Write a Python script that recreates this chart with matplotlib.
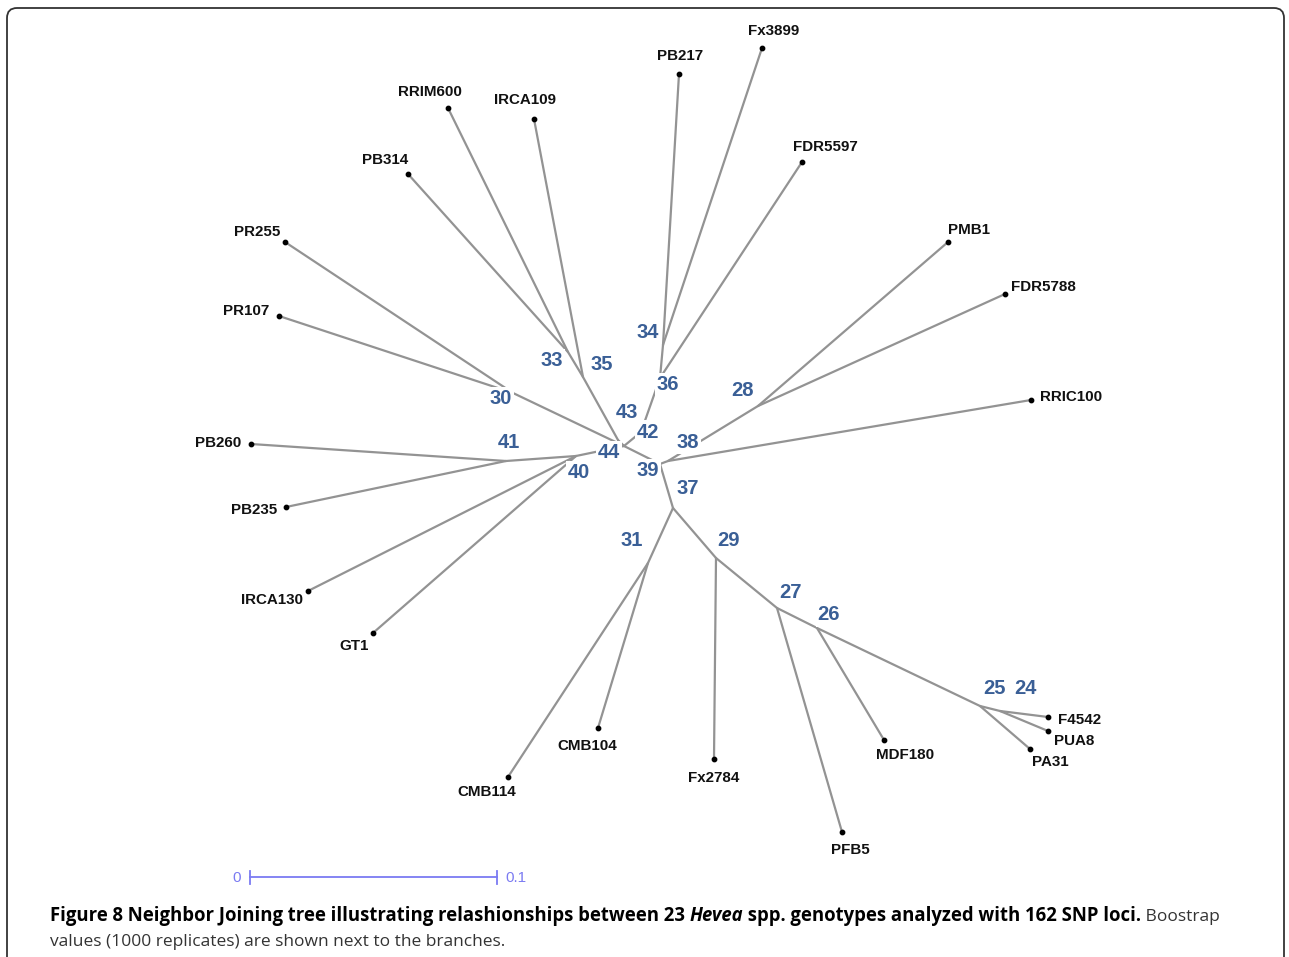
import matplotlib.pyplot as plt
from matplotlib.patches import FancyBboxPatch

# Tips of the NJ tree (layout coordinates, y grows downward)
tip_names = ["Fx3899", "PB217", "RRIM600", "IRCA109", "PB314", "FDR5597", "PMB1",
             "FDR5788", "RRIC100", "PR255", "PR107", "PB260", "PB235", "IRCA130",
             "GT1", "CMB114", "CMB104", "Fx2784", "PFB5", "MDF180", "PA31", "PUA8", "F4542"]
tip_x = [762, 679, 448, 534, 408, 802, 948, 1005, 1031, 285, 279, 251, 286, 308,
         373, 508, 598, 714, 842, 884, 1030, 1048, 1048]
tip_y = [48, 74, 108, 119, 174, 162, 242, 294, 400, 242, 316, 444, 507, 591,
         633, 777, 728, 759, 832, 740, 749, 731, 717]
# where each name sits relative to its tip
label_dx = [12, 1, -18, -9, -23, 23, 21, 38, 40, -28, -33, -33, -32, -36,
            -19, -21, -11, 0, 8, 21, 20, 26, 32]
label_dy = [-17, -18, -16, -19, -14, -15, -12, -7, -3, -10, -5, -1, 3, 9,
            13, 15, 18, 19, 18, 15, 13, 10, 3]

# Internal nodes
node_names = ["n24", "n25", "n26", "n27", "n28", "n29", "n30", "n31", "n33", "n34",
              "n35", "n36", "n37", "n38", "n39", "n40", "n41", "n42", "n43", "n44"]
node_x = [1000, 980, 817, 777, 758, 716, 513, 648, 568, 663,
          583, 660, 673, 668, 660, 576, 506, 641, 618, 624]
node_y = [711, 706, 628, 608, 406, 558, 393, 563, 352, 345,
          377, 378, 508, 461, 464, 456, 461, 432, 440, 446]

edges = [("n24", "F4542"), ("n24", "PUA8"), ("n25", "n24"), ("n25", "PA31"),
         ("n26", "n25"), ("n26", "MDF180"), ("n27", "n26"), ("n27", "PFB5"),
         ("n29", "n27"), ("n29", "Fx2784"), ("n31", "CMB114"), ("n31", "CMB104"),
         ("n37", "n29"), ("n37", "n31"), ("n39", "n37"), ("n39", "n38"),
         ("n38", "n28"), ("n38", "RRIC100"), ("n28", "PMB1"), ("n28", "FDR5788"),
         ("n33", "PB314"), ("n33", "RRIM600"), ("n35", "n33"), ("n35", "IRCA109"),
         ("n43", "n35"), ("n44", "n43"), ("n30", "PR255"), ("n30", "PR107"),
         ("n44", "n30"), ("n34", "PB217"), ("n34", "Fx3899"), ("n36", "n34"),
         ("n36", "FDR5597"), ("n42", "n36"), ("n44", "n42"), ("n41", "PB260"),
         ("n41", "PB235"), ("n40", "n41"), ("n40", "IRCA130"), ("n40", "GT1"),
         ("n44", "n40"), ("n44", "n39")]

# Bootstrap values and where they are printed
boot_values = [24, 25, 26, 27, 28, 29, 30, 31, 33, 34,
               35, 36, 37, 38, 39, 40, 41, 42, 43, 44]
boot_x = [1025, 995, 829, 791, 743, 728, 501, 632, 552, 648,
          602, 668, 688, 688, 648, 579, 509, 648, 627, 609]
boot_y = [688, 688, 615, 593, 390, 541, 399, 541, 361, 332,
          364, 385, 489, 442, 471, 473, 442, 432, 413, 453]

scale_value = 0.1
px_per_unit = 2470

pos = {}
for n, x, y in zip(tip_names, tip_x, tip_y):
    pos[n] = (x, y)
for n, x, y in zip(node_names, node_x, node_y):
    pos[n] = (x, y)

fig = plt.figure(figsize=(12.89, 9.57), dpi=100)
ax = fig.add_axes([0, 0, 1, 1])
ax.set_xlim(0, 1289)
ax.set_ylim(957, 0)
ax.axis("off")

# rounded frame
frame = FancyBboxPatch((7, 8), 1277, 1000, boxstyle="round,pad=0,rounding_size=10",
                       facecolor="white", edgecolor="#333333", linewidth=1.3, zorder=0)
ax.add_patch(frame)

# branches
for a, b in edges:
    (x0, y0), (x1, y1) = pos[a], pos[b]
    ax.plot([x0, x1], [y0, y1], color="#939393", lw=1.6, solid_capstyle="round", zorder=1)

# tips
ax.scatter(tip_x, tip_y, s=10, color="black", zorder=3)
for n, x, y, dx, dy in zip(tip_names, tip_x, tip_y, label_dx, label_dy):
    ax.text(x + dx, y + dy, n, ha="center", va="center", fontsize=10.9, fontweight="bold",
            family="Liberation Sans", color="#111111", zorder=4)

# bootstrap values
for v, x, y in zip(boot_values, boot_x, boot_y):
    ax.text(x, y, str(v), ha="center", va="center", fontsize=14.5, fontweight="bold",
            family="Liberation Sans", color="#3a5f96", zorder=5,
            bbox=dict(facecolor="white", edgecolor="none", pad=1.5))

# scale bar
bar_color = "#7b7bf2"
x0 = 250
x1 = x0 + scale_value * px_per_unit
ax.plot([x0, x1], [877, 877], color=bar_color, lw=1.3)
ax.plot([x0, x0], [871, 884], color=bar_color, lw=1.3)
ax.plot([x1, x1], [871, 884], color=bar_color, lw=1.3)
ax.text(x0 - 13, 878, "0", ha="center", va="center", fontsize=11, color=bar_color,
        family="Liberation Sans")
ax.text(x1 + 19, 878, str(scale_value), ha="center", va="center", fontsize=11,
        color=bar_color, family="Liberation Sans")

# caption, built run by run
fig.canvas.draw()
renderer = fig.canvas.get_renderer()
runs = [("Figure 8 Neighbor Joining tree illustrating relashionships between 23 ", "bold", "normal", "black", 13.33),
        ("Hevea", "bold", "italic", "black", 13.33),
        (" spp. genotypes analyzed with 162 SNP loci.", "bold", "normal", "black", 13.33),
        (" Boostrap", "normal", "normal", "#333333", 12.5)]
cx = 50
for s, w, st, c, fs in runs:
    t = ax.text(cx, 921, s, ha="left", va="baseline", fontsize=fs, fontweight=w,
                fontstyle=st, family="Open Sans", color=c)
    bb = t.get_window_extent(renderer)
    cx += bb.width
ax.text(50, 946, "values (1000 replicates) are shown next to the branches.", ha="left",
        va="baseline", fontsize=12.5, family="Open Sans", color="#333333")

fig.savefig("out.png", dpi=100)
